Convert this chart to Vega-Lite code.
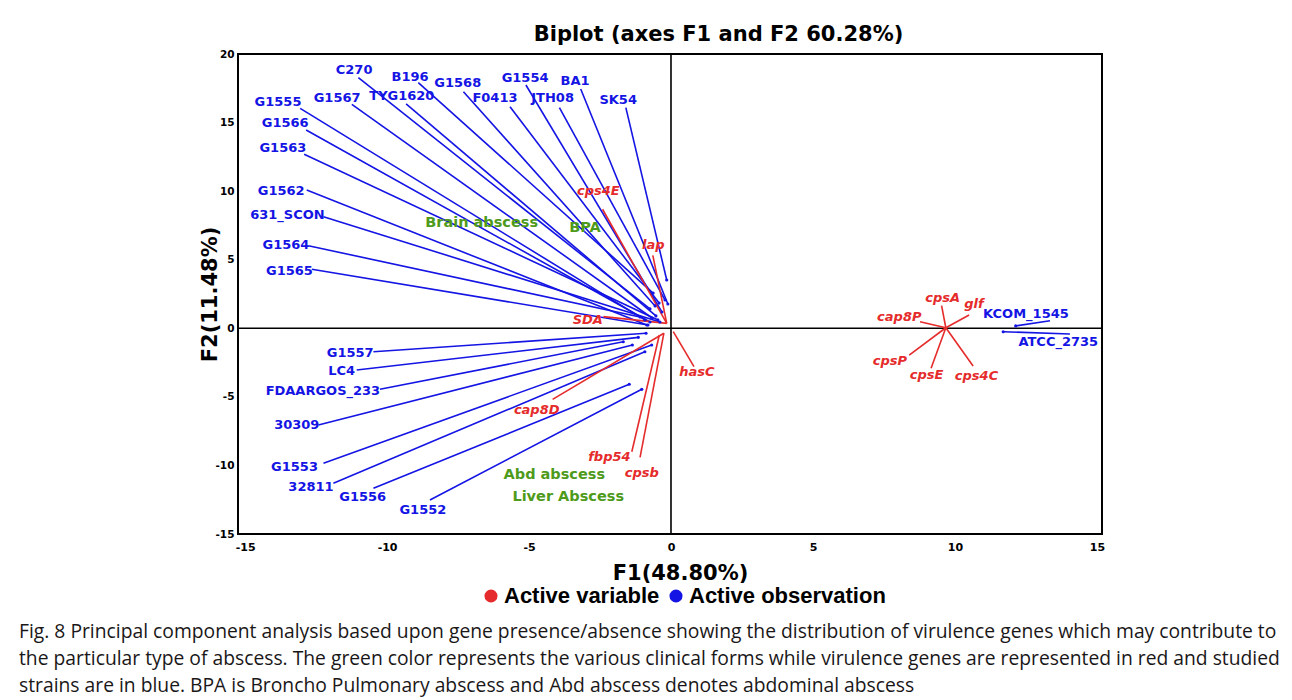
{
  "$schema": "https://vega.github.io/schema/vega-lite/v6.json",
  "width": 864,
  "height": 480,
  "autosize": {"type": "none"},
  "padding": {"left": 238, "top": 54, "right": 190, "bottom": 166},
  "background": "white",
  "title": {
    "text": [
      "Fig. 8 Principal component analysis based upon gene presence/absence showing the distribution of virulence genes which may contribute to",
      "the particular type of abscess. The green color represents the various clinical forms while virulence genes are represented in red and studied",
      "strains are in blue. BPA is Broncho Pulmonary abscess and Abd abscess denotes abdominal abscess"
    ],
    "orient": "bottom",
    "anchor": "start",
    "frame": "group",
    "dx": -219,
    "offset": 16,
    "font": "Open Sans",
    "fontSize": 19.3,
    "fontWeight": "normal",
    "color": "#1a1718",
    "lineHeight": 27
  },
  "datasets": {
    "items": [
      {"label": "SK54", "type": "Active observation", "lx": -1.86, "ly": 16.65, "x1": -1.59, "y1": 16.09, "x2": -0.15, "y2": 3.52},
      {"label": "BA1", "type": "Active observation", "lx": -3.38, "ly": 18.03, "x1": -3.18, "y1": 17.45, "x2": -0.11, "y2": 1.77},
      {"label": "JTH08", "type": "Active observation", "lx": -4.17, "ly": 16.77, "x1": -3.93, "y1": 16.09, "x2": -0.21, "y2": 2.06},
      {"label": "G1554", "type": "Active observation", "lx": -5.14, "ly": 18.23, "x1": -5.11, "y1": 17.74, "x2": -0.32, "y2": 1.19},
      {"label": "F0413", "type": "Active observation", "lx": -6.2, "ly": 16.82, "x1": -5.67, "y1": 16.16, "x2": -0.42, "y2": 1.84},
      {"label": "G1568", "type": "Active observation", "lx": -7.51, "ly": 17.86, "x1": -7.31, "y1": 17.25, "x2": -0.56, "y2": 1.63},
      {"label": "B196", "type": "Active observation", "lx": -9.19, "ly": 18.35, "x1": -8.9, "y1": 17.91, "x2": -0.63, "y2": 2.57},
      {"label": "TYG1620", "type": "Active observation", "lx": -9.48, "ly": 16.94, "x1": -9.33, "y1": 16.36, "x2": -0.53, "y2": 0.9},
      {"label": "C270", "type": "Active observation", "lx": -11.16, "ly": 18.83, "x1": -11.01, "y1": 18.27, "x2": -0.74, "y2": 1.41},
      {"label": "G1567", "type": "Active observation", "lx": -11.76, "ly": 16.79, "x1": -11.24, "y1": 16.33, "x2": -0.67, "y2": 0.75},
      {"label": "G1555", "type": "Active observation", "lx": -13.84, "ly": 16.5, "x1": -13.06, "y1": 16.04, "x2": -0.92, "y2": 0.61},
      {"label": "G1566", "type": "Active observation", "lx": -13.59, "ly": 14.95, "x1": -12.85, "y1": 14.46, "x2": -0.74, "y2": 0.46},
      {"label": "G1563", "type": "Active observation", "lx": -13.67, "ly": 13.13, "x1": -12.92, "y1": 12.69, "x2": -0.46, "y2": 0.61},
      {"label": "G1562", "type": "Active observation", "lx": -13.73, "ly": 10.03, "x1": -12.83, "y1": 10.08, "x2": -0.85, "y2": 0.24},
      {"label": "631_SCON", "type": "Active observation", "lx": -13.51, "ly": 8.26, "x1": -12.24, "y1": 8.14, "x2": -0.39, "y2": 0.46},
      {"label": "G1564", "type": "Active observation", "lx": -13.56, "ly": 6.07, "x1": -12.77, "y1": 6.02, "x2": -1.09, "y2": 0.82},
      {"label": "G1565", "type": "Active observation", "lx": -13.44, "ly": 4.18, "x1": -12.65, "y1": 4.3, "x2": -0.81, "y2": 0.24},
      {"label": "G1557", "type": "Active observation", "lx": -11.3, "ly": -1.82, "x1": -10.48, "y1": -1.71, "x2": -0.88, "y2": -0.36},
      {"label": "LC4", "type": "Active observation", "lx": -11.6, "ly": -3.09, "x1": -11.07, "y1": -3.04, "x2": -1.15, "y2": -0.66},
      {"label": "FDAARGOS_233", "type": "Active observation", "lx": -12.26, "ly": -4.55, "x1": -10.25, "y1": -4.45, "x2": -1.68, "y2": -0.98},
      {"label": "30309", "type": "Active observation", "lx": -13.18, "ly": -7.05, "x1": -12.42, "y1": -7.05, "x2": -1.36, "y2": -1.22},
      {"label": "G1553", "type": "Active observation", "lx": -13.26, "ly": -10.09, "x1": -12.24, "y1": -9.84, "x2": -0.68, "y2": -1.22},
      {"label": "32811", "type": "Active observation", "lx": -12.68, "ly": -11.59, "x1": -11.89, "y1": -11.3, "x2": -0.92, "y2": -1.71},
      {"label": "G1556", "type": "Active observation", "lx": -10.86, "ly": -12.28, "x1": -10.48, "y1": -11.67, "x2": -1.47, "y2": -4.08},
      {"label": "G1552", "type": "Active observation", "lx": -8.74, "ly": -13.25, "x1": -8.49, "y1": -12.52, "x2": -1.03, "y2": -4.45},
      {"label": "KCOM_1545", "type": "Active observation", "lx": 12.5, "ly": 1.02, "x1": 13.35, "y1": 0.55, "x2": 12.14, "y2": 0.17},
      {"label": "ATCC_2735", "type": "Active observation", "lx": 13.64, "ly": -0.98, "x1": 14.05, "y1": -0.42, "x2": 11.7, "y2": -0.25},
      {"label": "cps4E", "type": "Active variable", "lx": -2.56, "ly": 10.03, "x1": -2.41, "y1": 8.68, "x2": -0.15, "y2": 0.36},
      {"label": "lap", "type": "Active variable", "lx": -0.62, "ly": 6.07, "x1": -0.64, "y1": 5.32, "x2": -0.15, "y2": 0.36},
      {"label": "SDA", "type": "Active variable", "lx": -2.93, "ly": 0.61, "x1": -2.38, "y1": 0.85, "x2": -0.15, "y2": 0.36},
      {"label": "cap8D", "type": "Active variable", "lx": -4.73, "ly": -5.96, "x1": -4.17, "y1": -5.18, "x2": -0.25, "y2": -0.36},
      {"label": "fbp54", "type": "Active variable", "lx": -2.17, "ly": -9.41, "x1": -1.38, "y1": -9.0, "x2": -0.41, "y2": -0.49},
      {"label": "cpsb", "type": "Active variable", "lx": -1.03, "ly": -10.53, "x1": -1.09, "y1": -9.41, "x2": -0.25, "y2": -0.36},
      {"label": "hasC", "type": "Active variable", "lx": 0.91, "ly": -3.16, "x1": 0.81, "y1": -2.8, "x2": 0.08, "y2": -0.25},
      {"label": "cpsA", "type": "Active variable", "lx": 9.57, "ly": 2.19, "x1": 9.53, "y1": 1.65, "x2": 9.68, "y2": 0.04},
      {"label": "glf", "type": "Active variable", "lx": 10.67, "ly": 1.77, "x1": 10.5, "y1": 0.97, "x2": 9.68, "y2": 0.04},
      {"label": "cap8P", "type": "Active variable", "lx": 8.04, "ly": 0.8, "x1": 8.77, "y1": 0.48, "x2": 9.68, "y2": 0.04},
      {"label": "cpsP", "type": "Active variable", "lx": 7.71, "ly": -2.36, "x1": 8.39, "y1": -1.95, "x2": 9.68, "y2": 0.04},
      {"label": "cpsE", "type": "Active variable", "lx": 9.0, "ly": -3.41, "x1": 9.16, "y1": -2.92, "x2": 9.68, "y2": 0.04},
      {"label": "cps4C", "type": "Active variable", "lx": 10.76, "ly": -3.48, "x1": 10.64, "y1": -2.75, "x2": 9.68, "y2": 0.04}
    ],
    "groups": [
      {"label": "Brain abscess", "lx": -6.67, "ly": 7.7},
      {"label": "BPA", "lx": -3.03, "ly": 7.34},
      {"label": "Abd abscess", "lx": -4.11, "ly": -10.7},
      {"label": "Liver Abscess", "lx": -3.62, "ly": -12.28}
    ]
  },
  "layer": [
    {
      "data": {"values": [{}]},
      "mark": {"type": "rule", "color": "#000000", "strokeWidth": 1.6},
      "encoding": {
        "y": {
          "datum": 0, "type": "quantitative",
          "scale": {"domain": [-15, 20], "nice": false, "zero": false},
          "axis": {
            "values": [-15, -10, -5, 0, 5, 10, 15, 20],
            "labelExpr": "replace(datum.label, '\u2212', '-')",
            "ticks": false, "domain": false, "grid": false, "labelFlush": false,
            "labelFont": "DejaVu Sans", "labelFontSize": 10.5, "labelFontWeight": "bold", "labelColor": "#000000", "labelPadding": 4,
            "title": "F2(11.48%)", "titleFont": "DejaVu Sans", "titleFontSize": 21, "titleFontWeight": "bold", "titleColor": "#000000", "titlePadding": -5
          }
        }
      }
    },
    {
      "data": {"values": [{}]},
      "mark": {"type": "rule", "color": "#000000", "strokeWidth": 1.6},
      "encoding": {
        "x": {
          "datum": 0, "type": "quantitative",
          "scale": {"domain": [-15.25, 15.18], "nice": false, "zero": false},
          "axis": {
            "orient": "top", "domain": false, "ticks": false, "labels": false, "grid": false,
            "title": "Biplot (axes F1 and F2 60.28%)", "titleFont": "DejaVu Sans", "titleFontSize": 21, "titleFontWeight": "bold", "titleColor": "#000000",
            "titleX": 480, "titleY": -20, "titleAlign": "center", "titleBaseline": "middle", "titleAngle": 0
          }
        }
      }
    },
    {
      "data": {"name": "items"},
      "mark": {"type": "rule", "strokeWidth": 1.6},
      "encoding": {
        "x": {
          "field": "x1", "type": "quantitative",
          "scale": {"domain": [-15.25, 15.18], "nice": false, "zero": false},
          "axis": {
            "orient": "bottom", "values": [-15, -10, -5, 0, 5, 10, 15],
            "labelExpr": "replace(datum.label, '\u2212', '-')",
            "ticks": false, "domain": false, "grid": false, "labelFlush": false,
            "labelFont": "DejaVu Sans", "labelFontSize": 11, "labelFontWeight": "bold", "labelColor": "#000000", "labelPadding": 7,
            "title": "F1(48.80%)", "titleFont": "DejaVu Sans", "titleFontSize": 21, "titleFontWeight": "bold", "titleColor": "#000000", "titlePadding": 10, "titleX": 442
          }
        },
        "y": {"field": "y1", "type": "quantitative", "scale": {"domain": [-15, 20], "nice": false, "zero": false}, "title": "F2(11.48%)"},
        "x2": {"field": "x2"},
        "y2": {"field": "y2"},
        "color": {
          "field": "type", "type": "nominal",
          "scale": {"domain": ["Active variable", "Active observation"], "range": ["#e52b2b", "#1414e4"]},
          "legend": {
            "orient": "none", "legendX": 242, "legendY": 531, "direction": "horizontal", "title": null,
            "symbolType": "circle", "symbolSize": 170, "symbolStrokeWidth": 0,
            "labelFont": "Liberation Sans", "labelFontSize": 22, "labelFontWeight": "bold", "labelColor": "#000000",
            "labelOffset": 2, "labelLimit": 0, "columnPadding": 5, "padding": 0,
            "encode": {"symbols": {"update": {"fill": {"scale": "color", "field": "value"}, "opacity": {"value": 1}}}}
          }
        }
      }
    },
    {
      "data": {"name": "items"},
      "transform": [{"filter": "datum.type === 'Active observation'"}],
      "mark": {"type": "point", "filled": true, "size": 10, "opacity": 1},
      "encoding": {
        "x": {"field": "x2", "type": "quantitative", "scale": {"domain": [-15.25, 15.18], "nice": false, "zero": false}, "axis": null},
        "y": {"field": "y2", "type": "quantitative", "scale": {"domain": [-15, 20], "nice": false, "zero": false}, "title": "F2(11.48%)"},
        "color": {"field": "type", "type": "nominal"}
      }
    },
    {
      "data": {"name": "items"},
      "transform": [{"filter": "datum.type === 'Active observation'"}],
      "mark": {"type": "text", "font": "DejaVu Sans", "fontSize": 13, "fontWeight": "bold", "align": "center", "baseline": "middle"},
      "encoding": {
        "x": {"field": "lx", "type": "quantitative", "scale": {"domain": [-15.25, 15.18], "nice": false, "zero": false}, "axis": null},
        "y": {"field": "ly", "type": "quantitative", "scale": {"domain": [-15, 20], "nice": false, "zero": false}, "title": "F2(11.48%)"},
        "text": {"field": "label"},
        "color": {"field": "type", "type": "nominal"}
      }
    },
    {
      "data": {"name": "items"},
      "transform": [{"filter": "datum.type === 'Active variable'"}],
      "mark": {"type": "text", "font": "DejaVu Sans", "fontSize": 13, "fontWeight": "bold", "fontStyle": "italic", "align": "center", "baseline": "middle"},
      "encoding": {
        "x": {"field": "lx", "type": "quantitative", "scale": {"domain": [-15.25, 15.18], "nice": false, "zero": false}, "axis": null},
        "y": {"field": "ly", "type": "quantitative", "scale": {"domain": [-15, 20], "nice": false, "zero": false}, "title": "F2(11.48%)"},
        "text": {"field": "label"},
        "color": {"field": "type", "type": "nominal"}
      }
    },
    {
      "data": {"name": "groups"},
      "mark": {"type": "text", "font": "DejaVu Sans", "fontSize": 14.5, "fontWeight": "bold", "align": "center", "baseline": "middle", "color": "#4e9a1a"},
      "encoding": {
        "x": {"field": "lx", "type": "quantitative", "scale": {"domain": [-15.25, 15.18], "nice": false, "zero": false}, "axis": null},
        "y": {"field": "ly", "type": "quantitative", "scale": {"domain": [-15, 20], "nice": false, "zero": false}, "title": "F2(11.48%)"},
        "text": {"field": "label"}
      }
    }
  ],
  "resolve": {"axis": {"x": "independent"}},
  "config": {
    "view": {"stroke": "#000000", "strokeWidth": 2},
    "axis": {"grid": false}
  }
}
